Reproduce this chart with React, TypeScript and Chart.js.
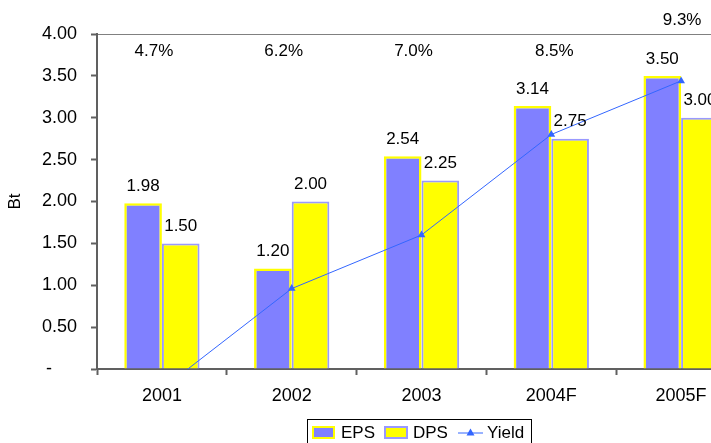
import React, { useEffect, useRef } from "react";
import { Chart, registerables } from "chart.js";

Chart.register(...registerables);

const categories = ["2001", "2002", "2003", "2004F", "2005F"];
const epsValues = [1.98, 1.2, 2.54, 3.14, 3.5];
const dpsValues = [1.5, 2.0, 2.25, 2.75, 3.0];
const yieldValues = [4.7, 6.2, 7.0, 8.5, 9.3];
const yTickValues = [0, 0.5, 1, 1.5, 2, 2.5, 3, 3.5, 4];

const FONT = "'Liberation Sans', Arial, sans-serif";
const EPS_FILL = "#8080FF";
const EPS_BORDER = "#FFFF00";
const DPS_FILL = "#FFFF00";
const DPS_BORDER = "#9999FF";
const LINE_COLOR = "#3366FF";
const AXIS_COLOR = "#606060";

const labelsPlugin = {
  id: "valueLabels",
  afterDatasetsDraw(chart: any) {
    const ctx = chart.ctx;
    ctx.save();
    ctx.font = `17px ${FONT}`;
    ctx.fillStyle = "#000";
    ctx.textAlign = "center";
    ctx.textBaseline = "middle";
    [0, 1].forEach((di) => {
      const meta = chart.getDatasetMeta(di);
      const data = chart.data.datasets[di].data as number[];
      meta.data.forEach((el: any, i: number) => {
        ctx.fillText(data[i].toFixed(2), el.x, el.y - 17);
      });
    });
    const lineMeta = chart.getDatasetMeta(2);
    const yd = chart.data.datasets[2].data as number[];
    const top = chart.chartArea.top;
    lineMeta.data.forEach((el: any, i: number) => {
      const last = i === yd.length - 1;
      const y = last ? top - 14 : top + 17;
      const dx = last ? 1 : i < 3 ? -8 : 3;
      ctx.fillText(yd[i].toFixed(1) + "%", el.x + dx, y);
    });
    ctx.restore();
  },
};

const legendPlugin = {
  id: "boxLegend",
  afterDraw(chart: any) {
    const ctx = chart.ctx;
    ctx.save();
    const left = 299;
    const top = 411;
    const cy = 424.5;
    ctx.strokeStyle = "#000";
    ctx.lineWidth = 1;
    ctx.strokeRect(left + 0.5, top + 0.5, 224, 40);
    ctx.font = `17px ${FONT}`;
    ctx.fillStyle = "#000";
    ctx.textAlign = "left";
    ctx.textBaseline = "middle";
    // EPS
    let x = left + 5;
    ctx.fillStyle = EPS_FILL;
    ctx.fillRect(x, cy - 6.5, 23, 13);
    ctx.strokeStyle = EPS_BORDER;
    ctx.lineWidth = 2;
    ctx.strokeRect(x + 1, cy - 5.5, 21, 11);
    ctx.fillStyle = "#000";
    ctx.fillText(chart.data.datasets[0].label, x + 29, cy + 1);
    // DPS
    x = left + 77;
    ctx.fillStyle = DPS_FILL;
    ctx.fillRect(x, cy - 6.5, 24, 13);
    ctx.strokeStyle = DPS_BORDER;
    ctx.lineWidth = 2;
    ctx.strokeRect(x + 1, cy - 5.5, 22, 11);
    ctx.fillStyle = "#000";
    ctx.fillText(chart.data.datasets[1].label, x + 29, cy + 1);
    // Yield
    x = left + 151;
    ctx.strokeStyle = LINE_COLOR;
    ctx.lineWidth = 1;
    ctx.beginPath();
    ctx.moveTo(x, cy + 0.5);
    ctx.lineTo(x + 25, cy + 0.5);
    ctx.stroke();
    ctx.fillStyle = LINE_COLOR;
    ctx.beginPath();
    ctx.moveTo(x + 12.5, cy - 4);
    ctx.lineTo(x + 16.5, cy + 3);
    ctx.lineTo(x + 8.5, cy + 3);
    ctx.closePath();
    ctx.fill();
    ctx.fillStyle = "#000";
    ctx.fillText(chart.data.datasets[2].label, x + 29, cy + 1);
    ctx.restore();
  },
};

export default function App() {
  const ref = useRef<HTMLCanvasElement | null>(null);

  useEffect(() => {
    document.documentElement.style.overflow = "hidden";
    if (!ref.current) return;
    const chart = new Chart(ref.current, {
      type: "bar",
      data: {
        labels: categories,
        datasets: [
          {
            type: "bar",
            label: "EPS",
            data: epsValues,
            backgroundColor: EPS_FILL,
            borderColor: EPS_BORDER,
            borderWidth: 2.5,
            order: 1,
            yAxisID: "y",
          },
          {
            type: "bar",
            label: "DPS",
            data: dpsValues,
            backgroundColor: DPS_FILL,
            borderColor: DPS_BORDER,
            borderWidth: 2,
            order: 1,
            yAxisID: "y",
          },
          {
            type: "line",
            label: "Yield",
            data: yieldValues,
            borderColor: LINE_COLOR,
            backgroundColor: LINE_COLOR,
            borderWidth: 1,
            pointStyle: "triangle",
            pointRadius: 4.5,
            pointBorderWidth: 0,
            pointBackgroundColor: LINE_COLOR,
            tension: 0,
            order: 0,
            yAxisID: "y2",
            clip: 0,
          } as any,
        ],
      },
      options: {
        responsive: false,
        animation: false,
        datasets: {
          bar: { categoryPercentage: 0.58, barPercentage: 1 },
        },
        layout: { padding: { left: 0, top: 26, right: 12, bottom: 0 } },
        plugins: {
          legend: { display: false },
          tooltip: { enabled: false },
          title: { display: false },
        },
        scales: {
          x: {
            type: "category",
            offset: true,
            border: { display: true, color: AXIS_COLOR, width: 2 },
            grid: {
              offset: true,
              drawOnChartArea: false,
              drawTicks: true,
              tickLength: 6,
              tickColor: AXIS_COLOR,
              tickWidth: 2,
            },
            ticks: {
              color: "#000",
              font: { family: FONT, size: 18 },
              padding: 10,
              maxRotation: 0,
            },
            afterFit(scale: any) {
              scale.height = 74;
            },
          },
          y: {
            type: "linear",
            position: "left",
            min: 0,
            max: 4,
            afterBuildTicks(scale: any) {
              scale.ticks = yTickValues.map((v) => ({ value: v }));
            },
            border: { display: true, color: AXIS_COLOR, width: 2 },
            grid: {
              color: (c: any) => (c.tick && c.tick.value === 4 ? "#808080" : "rgba(0,0,0,0)"),
              tickColor: AXIS_COLOR,
              tickLength: 6,
              tickWidth: 2,
              lineWidth: 1,
            },
            ticks: {
              color: "#000",
              font: { family: FONT, size: 18 },
              padding: 14,
              callback: (v: any) => (Number(v) === 0 ? "-     " : Number(v).toFixed(2)),
            },
            title: {
              display: true,
              text: "Bt",
              color: "#000",
              font: { family: FONT, size: 17 },
              padding: { top: -3, bottom: 0 },
            },
            afterFit(scale: any) {
              scale.width = 89;
            },
          },
          y2: {
            type: "linear",
            display: false,
            min: 5,
            max: 10,
          },
        },
      },
      plugins: [labelsPlugin, legendPlugin],
    });
    return () => chart.destroy();
  }, []);

  return (
    <div style={{ position: "fixed", left: 8, top: 8, width: 750, height: 435, overflow: "hidden" }}>
      <canvas ref={ref} width={750} height={435} style={{ width: 750, height: 435, display: "block" }} />
    </div>
  );
}
